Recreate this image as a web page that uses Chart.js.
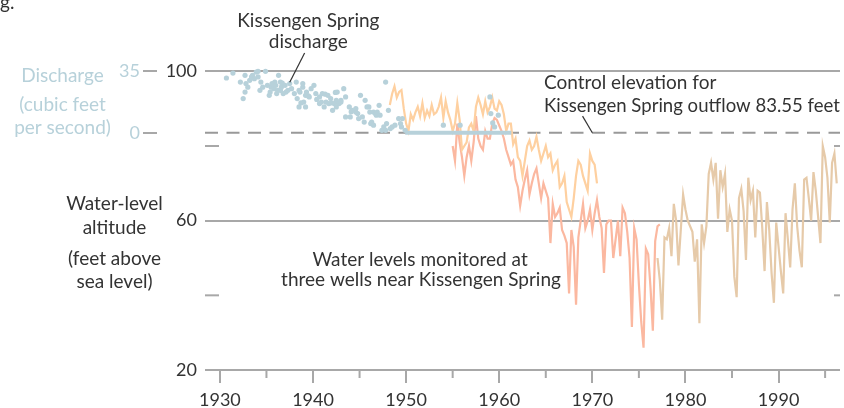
<!DOCTYPE html>
<html>
<head>
<meta charset="utf-8">
<title>Kissengen Spring discharge and water levels</title>
<script src="https://cdn.jsdelivr.net/npm/chart.js@4.4.1/dist/chart.umd.min.js"></script>
<style>
  html, body { margin: 0; padding: 0; background: #fff; }
  #wrap { width: 844px; height: 408px; }
</style>
</head>
<body>
<div id="wrap"><canvas id="springChart" width="844" height="408"></canvas></div>
<script>
// Axis ticks
const yearTicks = [1930, 1940, 1950, 1960, 1970, 1980, 1990];
const minorYearTicks = [1935, 1945, 1955, 1965, 1975, 1985, 1995];
const altitudeTicks = [20, 60, 100];
const minorAltitudeTicks = [40, 80];
const dischargeTicks = [0, 35];

// Control elevation for spring outflow (feet)
const controlElevation = 83.55;

// Kissengen Spring discharge (cubic feet per second)
const dischargeYears = [
  1930.7, 1931.4, 1932.2, 1932.5, 1932.7, 1932.7, 1932.8, 1933.0, 1933.2, 1933.4,
  1933.5, 1933.7, 1933.9, 1934.1, 1934.1, 1934.3, 1934.4, 1934.6, 1934.9, 1935.1,
  1935.3, 1935.4, 1935.5, 1935.6, 1935.8, 1935.9, 1936.0, 1936.1, 1936.2, 1936.3,
  1936.5, 1936.5, 1936.6, 1936.7, 1936.8, 1937.0, 1937.1, 1937.3, 1937.5, 1937.7,
  1938.0, 1938.2, 1938.3, 1938.5, 1938.5, 1938.6, 1938.7, 1938.9, 1938.9, 1939.0,
  1939.2, 1939.2, 1939.3, 1939.5, 1939.6, 1939.8, 1940.1, 1940.3, 1940.4, 1940.7,
  1940.7, 1940.9, 1941.0, 1941.2, 1941.3, 1941.4, 1941.6, 1941.7, 1941.9, 1942.0,
  1942.1, 1942.3, 1942.4, 1942.5, 1942.5, 1942.6, 1942.8, 1943.0, 1943.0, 1943.3,
  1943.5, 1943.5, 1943.9, 1944.0, 1944.1, 1944.2, 1944.6, 1944.6, 1944.8, 1944.9,
  1945.1, 1945.3, 1945.5, 1945.6, 1945.8, 1946.0, 1946.1, 1946.2, 1946.3, 1946.5,
  1946.5, 1946.7, 1946.8, 1946.9, 1947.1, 1947.2, 1947.4, 1947.6, 1947.8, 1947.8,
  1947.9, 1948.1, 1948.3, 1948.5, 1948.8, 1949.2, 1949.4, 1949.5, 1949.6, 1949.9,
  1954.0, 1955.8, 1959.0, 1959.1, 1959.3, 1959.5, 1959.9
];
const dischargeCfs = [
  31.2, 34.0, 28.9, 19.5, 23.2, 32.7, 28.0, 26.0, 29.9, 31.8,
  32.7, 30.8, 34.6, 31.8, 35.0, 24.2, 28.9, 26.0, 35.0, 27.0,
  21.3, 23.2, 26.0, 28.0, 25.1, 28.9, 27.0, 22.3, 24.2, 32.7,
  28.9, 24.2, 26.0, 28.3, 22.3, 27.0, 23.2, 24.2, 28.0, 25.1,
  22.3, 28.9, 19.5, 24.2, 14.7, 23.2, 17.0, 26.0, 28.0, 17.5,
  21.3, 14.7, 23.2, 21.0, 20.4, 25.1, 27.0, 22.3, 19.0, 20.4,
  16.6, 17.5, 22.3, 14.7, 22.0, 17.5, 21.3, 16.6, 19.5, 17.0,
  12.8, 16.6, 23.0, 18.5, 14.7, 23.2, 16.6, 18.5, 17.5, 25.1,
  20.4, 9.0, 14.7, 9.0, 12.0, 12.8, 13.8, 11.8, 10.9, 8.1,
  21.3, 9.0, 6.1, 18.5, 14.7, 14.7, 11.8, 5.2, 6.1, 4.3,
  11.8, 10.9, 10.0, 11.8, 15.6, 10.0, 1.4, 3.3, 28.9, 1.4,
  5.2, 12.8, 2.4, 3.3, 4.3, 8.1, 5.2, 3.3, 8.1, 1.4,
  4.3, 4.3, 20.4, 10.9, 5.6, 3.3, 10.0
];
// Spring stopped flowing
const noFlowYears = [1949.9, 1961.3];

// Water levels at three wells (feet above sea level), quarterly readings
const sampleStep = 0.25;
const well1Start = 1948.25;
const well1Levels = [
  91, 94, 96, 93, 94.5, 95, 90, 86, 84, 88.5, 87, 89, 90.5, 88, 91.5, 87.5,
  89.5, 88, 91, 88.5, 89, 90.5, 93, 87.5, 92, 89, 87, 84, 86, 91.5, 87, 79,
  80, 81, 85, 86, 84, 90.5, 93, 91, 88.5, 92, 89, 90.5, 93, 90, 89.5, 92,
  91, 88.5, 84, 86, 86, 80.5, 82, 77, 76, 72, 76, 80, 81.5, 79, 80, 82.5,
  79, 76, 78, 80, 77, 78, 73.5, 75, 76, 69, 70, 72, 65, 63, 61, 66,
  72, 76, 75, 72, 70, 68, 78, 76, 75, 70
];
const well2Start = 1955.0;
const well2Levels = [
  80, 76, 86, 81, 77, 72, 77, 80, 76, 81, 88, 82, 80, 79, 84, 82,
  82, 86, 87.5, 87, 85.5, 84, 82, 79, 77, 75, 76, 71, 69, 64, 68, 71,
  73.5, 67, 70, 72.5, 74, 70, 66, 70, 68, 66, 54, 64.5, 61, 62, 63.5, 57.5,
  56, 54, 40.5, 57.5, 53, 37.5, 55.5, 60, 64.5, 58, 60, 63, 57.5, 62, 65.5, 61,
  58, 46, 59, 60, 60, 50, 55, 60, 50.5, 63.5, 62, 57, 50, 31.5, 58, 55,
  43, 33, 26, 52.5, 51, 42, 30.5, 54.5, 58.5, 59
];
const well3Start = 1977.0;
const well3Levels = [
  50, 44, 33.5, 55.5, 55, 58, 50.5, 64.5, 60, 48, 57.5, 67, 63, 60, 58.5, 57,
  49, 55, 32.5, 59, 54, 58.5, 72.5, 75.5, 71, 75.5, 60.5, 73.5, 69, 72.5, 57, 63,
  60, 45, 39.5, 66, 68.5, 62.5, 49.5, 71.5, 65.5, 68, 55.5, 68, 67.5, 58, 46.5, 65,
  57.5, 46, 38, 59.5, 53, 46.5, 40.5, 62, 55, 47.5, 63, 70, 58.5, 52, 47.5, 71,
  71.5, 66, 60, 73, 68, 61, 54, 80, 77, 71.5, 59.5, 75.5, 78, 70
];

// Colours
const textColor = '#333333';
const axisGray = '#a8a8a8';
const dischargeBlue = '#b7d1da';
const well1Color = '#fed0a0';
const well2Color = '#fbb8a0';
const well3Color = '#e6caa9';

// Altitude range drawn, and matching discharge range (35 cfs sits on 100 ft, 0 cfs on the control elevation)
const altitudeMin = 20;
const altitudeMax = 110;
const cfsPerFoot = 35 / (100 - controlElevation);

function wellPoints(start, levels) {
  return levels.map((v, i) => ({ x: start + i * sampleStep, y: v }));
}

const labelFont = '19px Lato';
const tickFont = { family: 'Lato', size: 18 };

function strokeLine(ctx, x1, y1, x2, y2) {
  ctx.beginPath();
  ctx.moveTo(x1, y1);
  ctx.lineTo(x2, y2);
  ctx.stroke();
}

// Annotations, titles and the short tick marks
const annotationPlugin = {
  id: 'springAnnotations',
  afterDraw(chart) {
    const ctx = chart.ctx;
    const xs = chart.scales.x;
    const ys = chart.scales.y;
    const area = chart.chartArea;
    const X = v => xs.getPixelForValue(v);
    const Y = v => ys.getPixelForValue(v);
    ctx.save();

    ctx.strokeStyle = axisGray;
    ctx.lineWidth = 2;
    minorAltitudeTicks.forEach(v => {
      strokeLine(ctx, area.left, Y(v), area.left + 14, Y(v));
      strokeLine(ctx, area.right - 6, Y(v), area.right, Y(v));
    });
    minorYearTicks.forEach(v => {
      strokeLine(ctx, X(v), area.bottom, X(v), area.bottom + 8);
    });

    ctx.font = labelFont;
    ctx.textBaseline = 'middle';
    ctx.fillStyle = textColor;

    ctx.textAlign = 'center';
    ctx.fillText('Kissengen Spring', X(1939.5), Y(113.5));
    ctx.fillText('discharge', X(1939.5), Y(108));
    ctx.fillText('Water levels monitored at', X(1951.5), Y(49.5));
    ctx.fillText('three wells near Kissengen Spring', X(1951.6), Y(44.1));

    ctx.textAlign = 'left';
    ctx.fillText('Control elevation for', X(1964.8), Y(96.9));
    ctx.fillText('Kissengen Spring outflow 83.55 feet', X(1964.8), Y(90.7), area.right - X(1964.8));

    // leader lines
    ctx.strokeStyle = textColor;
    ctx.lineWidth = 1.2;
    strokeLine(ctx, X(1939.1), Y(104.9), X(1937.5), Y(97.1));
    strokeLine(ctx, X(1968.95), Y(88.0), X(1970.0), Y(controlElevation));

    // left titles
    ctx.textAlign = 'center';
    ctx.fillText('Water-level', 114.5, Y(64.5));
    ctx.fillText('altitude', 114.5, Y(58));
    ctx.fillText('(feet above', 114.5, Y(49.7));
    ctx.fillText('sea level)', 114.5, Y(43.6));

    ctx.fillStyle = dischargeBlue;
    ctx.fillText('Discharge', 62.5, Y(98.75));
    ctx.fillText('(cubic feet', 62.5, Y(91.0));
    ctx.fillText('per second)', 62.5, Y(84.8));

    // tail of the caption above the figure
    ctx.fillStyle = textColor;
    ctx.textAlign = 'left';
    ctx.textBaseline = 'alphabetic';
    ctx.fillText('g.', 0, 9);

    ctx.restore();
  }
};

const springChart = new Chart(document.getElementById('springChart'), {
  data: {
    datasets: [
      {
        type: 'scatter',
        label: 'Kissengen Spring discharge',
        data: dischargeYears.map((yr, i) => ({ x: yr, y: dischargeCfs[i] })),
        yAxisID: 'q',
        backgroundColor: dischargeBlue,
        borderWidth: 0,
        pointRadius: 2.6
      },
      {
        type: 'line',
        label: 'No flow',
        data: noFlowYears.map(yr => ({ x: yr, y: 0 })),
        yAxisID: 'q',
        borderColor: dischargeBlue,
        borderWidth: 4,
        pointRadius: 0
      },
      {
        type: 'line',
        label: 'Well 3',
        data: wellPoints(well3Start, well3Levels),
        borderColor: well3Color,
        borderWidth: 2.2,
        pointRadius: 0,
        tension: 0
      },
      {
        type: 'line',
        label: 'Well 1',
        data: wellPoints(well1Start, well1Levels),
        borderColor: well1Color,
        borderWidth: 2.2,
        pointRadius: 0,
        tension: 0
      },
      {
        type: 'line',
        label: 'Well 2',
        data: wellPoints(well2Start, well2Levels),
        borderColor: well2Color,
        borderWidth: 2.2,
        pointRadius: 0,
        tension: 0
      },
      {
        type: 'line',
        label: 'Control elevation',
        data: [{ x: 1928.4, y: controlElevation }, { x: 1996.6, y: controlElevation }],
        borderColor: '#999999',
        borderWidth: 1.8,
        borderDash: [13, 8.5],
        pointRadius: 0
      }
    ]
  },
  options: {
    responsive: false,
    devicePixelRatio: 1,
    animation: false,
    layout: { padding: { left: 97, top: 34, right: 0, bottom: 0 } },
    plugins: { legend: { display: false }, tooltip: { enabled: false } },
    scales: {
      x: {
        type: 'linear',
        position: 'bottom',
        min: 1928.4,
        max: 1996.6,
        afterBuildTicks: s => { s.ticks = yearTicks.map(v => ({ value: v })); },
        afterFit: s => { s.height = 38; },
        border: { display: false },
        grid: { drawOnChartArea: false, tickLength: 13, color: axisGray, lineWidth: 2 },
        ticks: { color: textColor, font: tickFont, padding: 6, maxRotation: 0,
                 callback: v => String(v) }
      },
      y: {
        position: 'left',
        weight: 0,
        min: altitudeMin,
        max: altitudeMax,
        afterBuildTicks: s => { s.ticks = altitudeTicks.map(v => ({ value: v })); },
        afterFit: s => { s.width = 48; },
        border: { display: false },
        grid: { color: axisGray, lineWidth: 2, drawTicks: false },
        ticks: { color: textColor, font: tickFont, padding: 8 }
      },
      q: {
        position: 'left',
        weight: 1,
        min: (altitudeMin - controlElevation) * cfsPerFoot,
        max: (altitudeMax - controlElevation) * cfsPerFoot,
        afterBuildTicks: s => { s.ticks = dischargeTicks.map(v => ({ value: v })); },
        afterFit: s => { s.width = 60; },
        border: { display: false },
        grid: { drawOnChartArea: false, tickLength: 14, color: axisGray, lineWidth: 2 },
        ticks: { color: dischargeBlue, font: tickFont, padding: 3 }
      }
    }
  },
  plugins: [annotationPlugin]
});
</script>
</body>
</html>
